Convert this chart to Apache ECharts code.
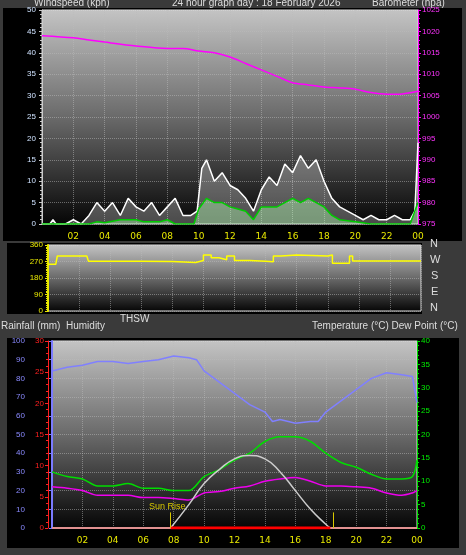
<!DOCTYPE html>
<html>
<head>
<meta charset="utf-8">
<script src="https://cdn.jsdelivr.net/npm/echarts@6/dist/echarts.min.js"></script>
<style>
  body { margin: 0; background: #3a3a3a; }
  #main { width: 466px; height: 555px; }
</style>
</head>
<body>
<div id="main"></div>
<script>
// hours of the day for x axis labels
var hourLabels = ['02', '04', '06', '08', '10', '12', '14', '16', '18', '20', '22', '00']

// wind gust (kph), every half hour
var gustHours = [0, 0.5, 0.7, 0.9, 1.5, 2, 2.5, 3, 3.5, 4, 4.5, 5, 5.5, 6, 6.5, 7, 7.5, 8, 8.5, 9, 9.5, 9.9, 10.2, 10.5, 11, 11.5, 12, 12.5, 13, 13.5, 14, 14.5, 15, 15.5, 16, 16.5, 17, 17.5, 18, 18.5, 19, 19.5, 20, 20.5, 21, 21.5, 22, 22.5, 23, 23.5, 23.8, 24]
var gustVals = [0, 0, 1, 0, 0, 1, 0, 2, 5, 3, 5, 2, 6, 4, 3, 5, 2, 4, 6, 2, 2, 3, 13, 15, 10, 12, 9, 8, 6, 3, 8, 11, 9, 14, 12, 16, 13, 15, 10, 6, 4, 3, 2, 1, 2, 1, 1, 2, 1, 1, 3, 19]
// average wind (kph)
var avgHours = [0, 3, 3.5, 4, 5, 6, 6.5, 7.5, 8, 8.5, 9.7, 10, 10.5, 11, 11.5, 12, 12.5, 13, 13.5, 14, 14.5, 15, 15.5, 16, 16.5, 17, 17.5, 18, 18.5, 19, 20, 21, 23.5, 24]
var avgVals = [0, 0, 0.5, 0.3, 1, 1, 0.5, 0.5, 1, 0, 0, 3.5, 6, 5, 5, 4, 3.5, 3, 1, 4, 4, 4, 5, 6, 5, 6, 5, 4, 2, 1, 0.5, 0, 0, 5]
// barometer (hpa)
var baroHours = [0, 2, 3, 4, 6, 8, 9, 10, 11, 12, 13, 14, 15, 16, 17, 18, 19, 20, 21, 22, 23, 24]
var baroVals = [1019, 1018.5, 1018, 1017.5, 1016.6, 1016, 1016, 1015.4, 1015, 1014, 1012.5, 1011, 1009.5, 1008, 1007.5, 1007, 1006.8, 1006.5, 1005.7, 1005.3, 1005.4, 1006]
// wind direction (deg)
var dirHours = [0, 0.5, 0.6, 2.5, 2.6, 4, 6, 8, 9.5, 10, 10.5, 11, 11.5, 12, 13, 14, 14.5, 15, 16, 17, 18, 18.3, 19, 19.4, 19.6, 24]
var dirVals = [255, 258, 300, 300, 272, 272, 270, 265, 275, 305, 290, 280, 300, 275, 272, 268, 300, 305, 303, 300, 305, 260, 260, 300, 273, 272]
// humidity (%)
var humHours = [0, 1, 2, 3, 4, 5, 6, 7, 8, 9, 9.5, 10, 11, 12, 13, 14, 14.5, 15, 16, 17, 17.5, 18, 19, 20, 21, 22, 23, 23.7, 24]
var humVals = [84, 86, 87, 89, 89, 88, 89, 90, 92, 91, 90, 84, 78, 72, 66, 62, 57, 58, 56, 57, 57, 62, 68, 74, 80, 83, 82, 81, 67]
// temperature and dew point (C)
var tHours = [0, 1, 2, 3, 4, 5, 6, 7, 8, 9, 10, 11, 12, 13, 14, 15, 16, 17, 18, 19, 20, 21, 22, 23, 23.7, 24]
var tempVals = [12, 11, 10.5, 9, 9, 9.5, 8.5, 8.5, 8, 8, 11, 12.5, 14.5, 16, 18.5, 19.5, 19.5, 18.5, 16, 14, 13, 11.5, 10.5, 10.5, 11, 14.5]
var dewVals = [8.8, 8.5, 8, 7, 7, 7, 6.5, 6.5, 6.3, 6, 7.5, 7.8, 8.5, 9, 10, 10.5, 10.8, 10, 9, 9, 8.8, 8.5, 7.5, 7, 7.5, 8]
// solar curve (on temperature scale)
var solHours = [7.8, 9, 10, 11, 12, 13, 14, 15, 16, 17, 18, 18.3]
var solVals = [0, 5, 9.5, 12.5, 14.8, 15.5, 14.8, 12, 8, 4, 0.8, 0]
var sunRise = 7.8
var sunSet = 18.5

function pairs(xs, ys) {
  return xs.map(function (x, i) { return [x, ys[i]] })
}

var bg = {
  type: 'linear', x: 0, y: 0, x2: 0, y2: 1,
  colorStops: [{ offset: 0, color: '#c4c4c4' }, { offset: 0.5, color: '#6a6a6a' }, { offset: 1, color: '#050505' }]
}
var gridLine = { show: true, lineStyle: { color: '#bbbbbb', type: 'dotted', opacity: 0.5 } }

function xAxis(gi) {
  return {
    type: 'value', gridIndex: gi, min: 0, max: 24, interval: 2,
    axisLine: { show: false }, axisTick: { show: false },
    axisLabel: {
      show: gi !== 1, color: '#e8e800', fontSize: 9, fontFamily: 'DejaVu Sans',
      formatter: function (v) { return v === 0 ? '' : hourLabels[v / 2 - 1] }
    },
    splitLine: gridLine
  }
}

var myChart = echarts.init(document.getElementById('main'))
var option = {
  backgroundColor: '#3a3a3a',
  animation: false,
  graphic: [
    { type: 'rect', shape: { x: 3, y: 8, width: 459, height: 233 }, style: { fill: '#000' }, z: -10 },
    { type: 'rect', shape: { x: 7, y: 243, width: 415, height: 71 }, style: { fill: '#000' }, z: -10 },
    { type: 'rect', shape: { x: 7, y: 338, width: 452, height: 210 }, style: { fill: '#000' }, z: -10 },
    { type: 'text', left: 34, top: -2, style: { text: 'Windspeed (kph)', fill: '#ddd', fontSize: 10 } },
    { type: 'text', left: 172, top: -2, style: { text: '24 hour graph day : 18 February 2026', fill: '#ddd', fontSize: 10 } },
    { type: 'text', left: 372, top: -2, style: { text: 'Barometer (hpa)', fill: '#ddd', fontSize: 10 } },
    { type: 'text', left: 1, top: 321, style: { text: 'Rainfall (mm)  Humidity', fill: '#ddd', fontSize: 10 } },
    { type: 'text', left: 120, top: 314, style: { text: 'THSW', fill: '#ddd', fontSize: 10 } },
    { type: 'text', left: 312, top: 321, style: { text: 'Temperature (°C) Dew Point (°C)', fill: '#ddd', fontSize: 10 } },
    { type: 'text', left: 430, top: 238, style: { text: 'N', fill: '#ddd', fontSize: 11 } },
    { type: 'text', left: 430, top: 254, style: { text: 'W', fill: '#ddd', fontSize: 11 } },
    { type: 'text', left: 431, top: 270, style: { text: 'S', fill: '#ddd', fontSize: 11 } },
    { type: 'text', left: 431, top: 286, style: { text: 'E', fill: '#ddd', fontSize: 11 } },
    { type: 'text', left: 430, top: 302, style: { text: 'N', fill: '#ddd', fontSize: 11 } },
    { type: 'text', left: 149, top: 502, style: { text: 'Sun Rise', fill: '#d8c800', fontSize: 9 } }
  ],
  grid: [
    { left: 42, right: 48, top: 10, height: 214, show: true, backgroundColor: bg, borderColor: '#ddd', borderWidth: 1 },
    { left: 48, right: 45, top: 245, height: 66, show: true, backgroundColor: bg, borderColor: '#ddd', borderWidth: 1 },
    { left: 52, right: 49, top: 341, height: 187, show: true, backgroundColor: bg, borderColor: '#ddd', borderWidth: 1 }
  ],
  xAxis: [xAxis(0), xAxis(1), xAxis(2)],
  yAxis: [
    { type: 'value', gridIndex: 0, min: 0, max: 50, interval: 5, axisLine: { show: true, lineStyle: { color: '#ccc' } },
      axisTick: { show: true, length: 3 }, minorTick: { show: true, splitNumber: 5, length: 2 },
      axisLabel: { color: '#cfe2ff', fontSize: 8, margin: 6 }, splitLine: gridLine },
    { type: 'value', gridIndex: 0, min: 975, max: 1025, interval: 5, position: 'right',
      axisLine: { show: true, lineStyle: { color: '#ff00ff' } }, axisTick: { show: true, length: 3 },
      minorTick: { show: true, splitNumber: 5, length: 2 },
      axisLabel: { color: '#ff33ff', fontSize: 8, margin: 4, formatter: function (v) { return String(v) } }, splitLine: { show: false } },
    { type: 'value', gridIndex: 1, min: 0, max: 360, interval: 90,
      axisLine: { show: true, lineStyle: { color: '#e8e800', width: 2 } }, axisTick: { show: true, length: 3 },
      minorTick: { show: true, splitNumber: 9, length: 2 },
      axisLabel: { color: '#e8e800', fontSize: 8, margin: 5 }, splitLine: gridLine },
    { type: 'value', gridIndex: 2, min: 0, max: 100, interval: 10, position: 'left', offset: 22,
      axisLine: { show: true, lineStyle: { color: '#7b7bff', width: 2 } }, axisTick: { show: true, length: 3 },
      axisLabel: { color: '#8a8aff', fontSize: 8, margin: 5 }, splitLine: gridLine },
    { type: 'value', gridIndex: 2, min: 0, max: 30, interval: 5, position: 'left', offset: 4,
      axisLine: { show: true, lineStyle: { color: '#ff2020' } }, axisTick: { show: true, length: 3 },
      minorTick: { show: true, splitNumber: 5, length: 2 },
      axisLabel: { color: '#ff2020', fontSize: 8, margin: 4 }, splitLine: { show: false } },
    { type: 'value', gridIndex: 2, min: 0, max: 40, interval: 5, position: 'right',
      axisLine: { show: true, lineStyle: { color: '#00dd00' } }, axisTick: { show: true, length: 3 },
      minorTick: { show: true, splitNumber: 5, length: 2 },
      axisLabel: { color: '#00ee00', fontSize: 8, margin: 4 }, splitLine: { show: false } }
  ],
  series: [
    { type: 'line', xAxisIndex: 0, yAxisIndex: 0, data: pairs(gustHours, gustVals), symbol: 'none',
      lineStyle: { color: '#ffffff', width: 1.5 }, areaStyle: { color: 'rgba(255,255,255,0.4)' } },
    { type: 'line', xAxisIndex: 0, yAxisIndex: 0, data: pairs(avgHours, avgVals), symbol: 'none',
      lineStyle: { color: '#00cc00', width: 1.5 }, areaStyle: { color: 'rgba(180,255,180,0.6)' } },
    { type: 'line', xAxisIndex: 0, yAxisIndex: 1, data: pairs(baroHours, baroVals), symbol: 'none', smooth: 0.3,
      lineStyle: { color: '#ff00ff', width: 1.5 } },
    { type: 'line', xAxisIndex: 1, yAxisIndex: 2, data: pairs(dirHours, dirVals), step: 'end', symbol: 'none',
      lineStyle: { color: '#ffff00', width: 1.5 } },
    { type: 'line', xAxisIndex: 2, yAxisIndex: 3, data: pairs(humHours, humVals), symbol: 'none',
      lineStyle: { color: '#8080ff', width: 1.5 } },
    { type: 'line', xAxisIndex: 2, yAxisIndex: 5, data: pairs(tHours, tempVals), symbol: 'none', smooth: 0.3,
      lineStyle: { color: '#00dd00', width: 1.5 } },
    { type: 'line', xAxisIndex: 2, yAxisIndex: 5, data: pairs(tHours, dewVals), symbol: 'none', smooth: 0.3,
      lineStyle: { color: '#ee00ee', width: 1.5 } },
    { type: 'line', xAxisIndex: 2, yAxisIndex: 5, data: pairs(solHours, solVals), symbol: 'none', smooth: true,
      lineStyle: { color: '#cccccc', width: 1.5 } },
    { type: 'line', xAxisIndex: 2, yAxisIndex: 4, data: [[0, 0], [24, 0]], symbol: 'none',
      lineStyle: { color: '#e09090', width: 2 },
      markLine: { symbol: 'none', silent: true, label: { show: false },
        lineStyle: { color: '#d8c800', type: 'solid', width: 1 },
        data: [[{ coord: [sunRise, 0] }, { coord: [sunRise, 2.5] }], [{ coord: [sunSet, 0] }, { coord: [sunSet, 2.5] }]] } },
    { type: 'line', xAxisIndex: 2, yAxisIndex: 4, data: [[sunRise, 0], [sunSet - 0.2, 0]], symbol: 'none',
      lineStyle: { color: '#ff0000', width: 3 } }
  ]
}
myChart.setOption(option)
</script>
</body>
</html>
